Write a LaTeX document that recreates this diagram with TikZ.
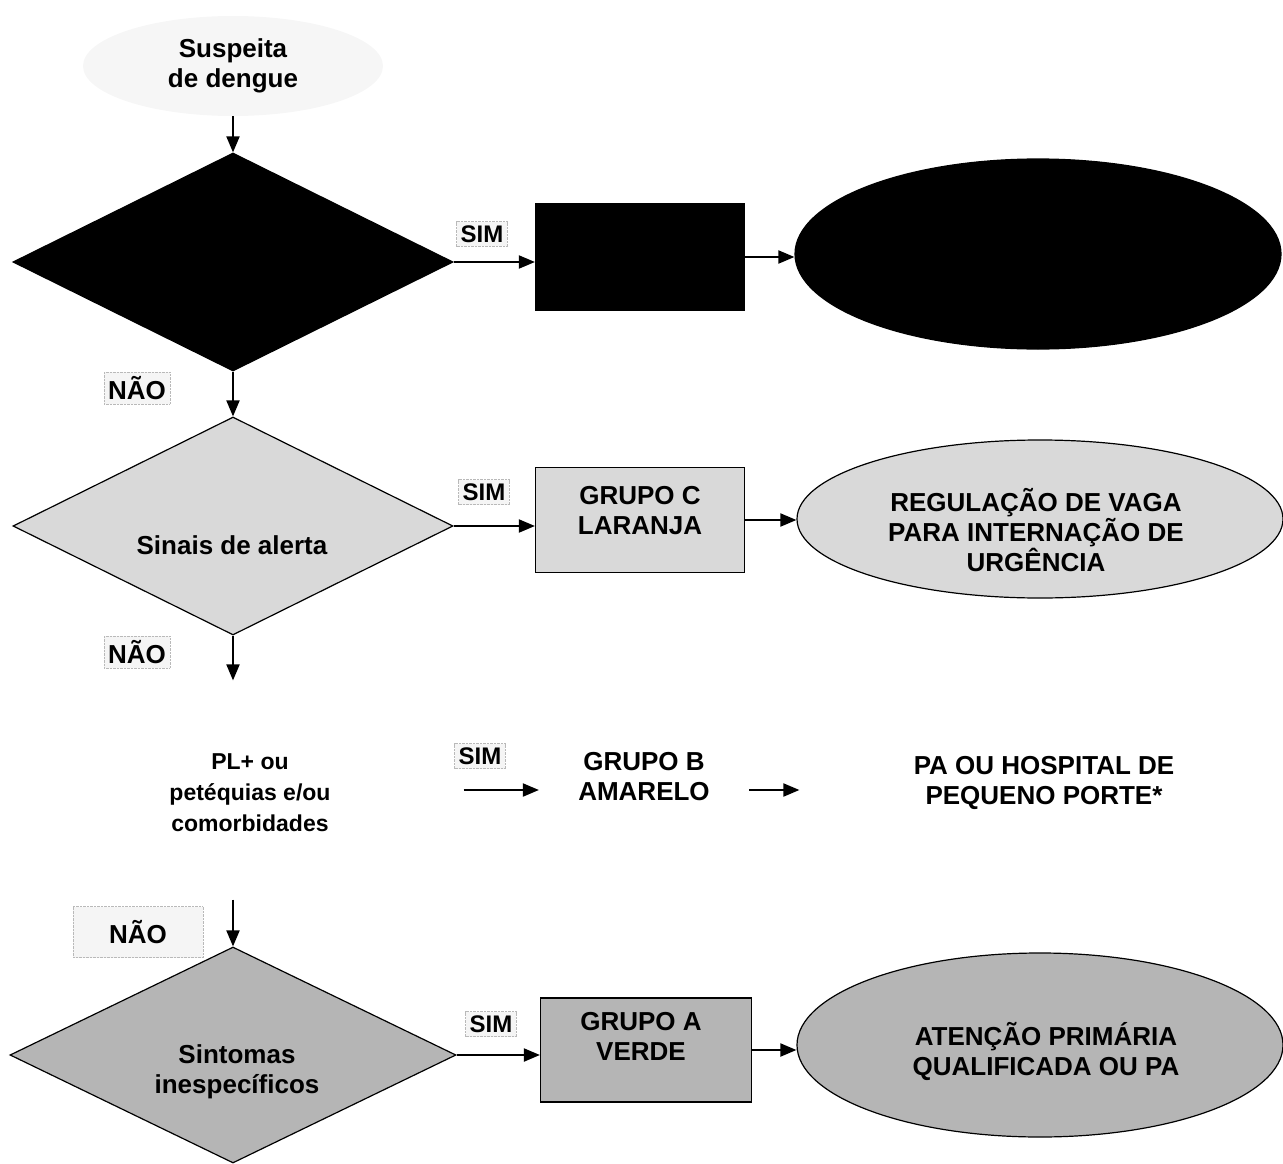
\documentclass[tikz,border=0pt]{standalone}
\usepackage{fontspec}
\setmainfont{Liberation Sans}
\usetikzlibrary{shapes.geometric,arrows.meta}
\begin{document}
\begin{tikzpicture}[x=1pt,y=-1pt,
  txt/.style={font=\fontsize{26}{30}\selectfont\bfseries, align=center, inner sep=0pt},
  dia/.style={diamond, draw=black, line width=1.2pt, inner sep=0pt, minimum width=440pt, minimum height=218pt},
  box/.style={rectangle, draw=black, line width=1.2pt, inner sep=0pt, minimum width=209pt, minimum height=106pt},
  oval/.style={ellipse, draw=black, line width=1.2pt, inner sep=0pt, minimum width=486pt},
  ghost/.style={draw=none, fill=none},
  lbl/.style={font=\fontsize{24}{28}\selectfont\bfseries, fill=gray!8, draw=gray!55, densely dotted, inner sep=4pt},
  arr/.style={line width=2pt, -{Triangle[length=16pt,width=13pt]}},
  grpD/.style={fill=black},
  grpC/.style={fill=gray!30},
  grpA/.style={fill=gray!58}]
\useasboundingbox (0,0) rectangle (1283,1164);

% start
\node[ellipse, fill=gray!7, inner sep=0pt, minimum width=300pt, minimum height=100pt, txt] (start) at (233,66) {Suspeita\\de dengue};

% row 1 (grupo D)
\node[dia, grpD] (d1) at (233,262) {};
\node[box, grpD] (r1) at (640,257) {};
\node[oval, grpD, minimum height=190pt] (e1) at (1038,254) {};
\node[lbl] (s1) at (482,234) {SIM};
\node[lbl, font=\fontsize{26}{30}\selectfont\bfseries] (n1) at (137,388) {NÃO};
\draw[arr] (start.south) -- (d1.north);
\draw[arr] (d1.east) -- (d1.east -| r1.west);
\draw[arr] (r1.east) -- (r1.east -| e1.west);

% row 2 (grupo C)
\node[dia, grpC] (d2) at (233,526) {};
\node[txt] (t2) at (232,545) {Sinais de alerta};
\node[box, grpC, minimum height=105pt] (r2) at (640,520) {};
\node[txt] (tr2) at (640,511) {GRUPO C\\LARANJA};
\node[oval, grpC, minimum height=158pt] (e2) at (1040,519) {};
\node[txt] (te2) at (1036,530) {REGULAÇÃO DE VAGA\\PARA INTERNAÇÃO DE\\URGÊNCIA};
\node[lbl] (s2) at (484,492) {SIM};
\node[lbl, font=\fontsize{26}{30}\selectfont\bfseries] (n2) at (137,652) {NÃO};
\draw[arr] (d1.south) -- (d2.north);
\draw[arr] (d2.east) -- (d2.east -| r2.west);
\draw[arr] (r2.east) -- (r2.east -| e2.west);

% row 3 (grupo B)
\node[dia, ghost] (d3) at (233,790) {};
\node[txt, font=\fontsize{23}{31}\selectfont\bfseries] (t3) at (250,793) {PL+ ou\\petéquias e/ou\\comorbidades};
\node[box, ghost] (r3) at (644,790) {};
\node[txt] (tr3) at (644,777) {GRUPO B\\AMARELO};
\node[oval, ghost, minimum height=150pt] (e3) at (1043,783) {};
\node[txt] (te3) at (1044,783) {PA OU HOSPITAL DE\\PEQUENO PORTE*};
\node[lbl] (s3) at (480,756) {SIM};
\draw[arr] (d2.south) -- (d3.north);
\draw[arr, shorten <=10pt] (d3.east) -- (d3.east -| r3.west);
\draw[arr] (r3.east) -- (r3.east -| e3.west);

% row 4 (grupo A)
\node[dia, grpA, minimum width=446pt, minimum height=216pt] (d4) at (233,1055) {};
\node[txt] (t4) at (237,1072) {Sintomas\\inespecíficos};
\node[box, grpA, minimum width=211pt, minimum height=104pt] (r4) at (646,1050) {};
\node[txt] (tr4) at (641,1036) {GRUPO A\\VERDE};
\node[oval, grpA, minimum height=184pt] (e4) at (1040,1045) {};
\node[txt] (te4) at (1046,1051) {ATENÇÃO PRIMÁRIA\\QUALIFICADA OU PA};
\node[lbl] (s4) at (491,1024) {SIM};
\node[lbl, font=\fontsize{26}{30}\selectfont\bfseries, minimum width=130pt, minimum height=51pt] (n3) at (138,932) {NÃO};
\draw[arr] (d3.south) -- (d4.north);
\draw[arr] (d4.east) -- (d4.east -| r4.west);
\draw[arr] (r4.east) -- (r4.east -| e4.west);
\end{tikzpicture}
\end{document}
